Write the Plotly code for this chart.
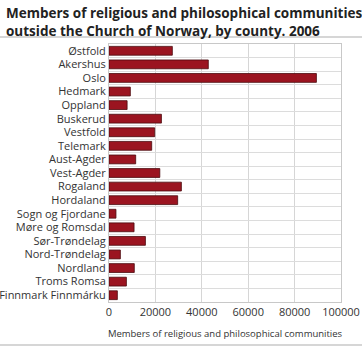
import plotly.graph_objects as go

counties = ["Østfold", "Akershus", "Oslo", "Hedmark", "Oppland", "Buskerud", "Vestfold",
            "Telemark", "Aust-Agder", "Vest-Agder", "Rogaland", "Hordaland",
            "Sogn og Fjordane", "Møre og Romsdal", "Sør-Trøndelag", "Nord-Trøndelag",
            "Nordland", "Troms Romsa", "Finnmark Finnmárku"]
members = [27300, 42800, 89400, 9200, 7800, 22600, 19700, 18400, 11500, 21900,
           31200, 29600, 3000, 10800, 15700, 4900, 10900, 7500, 3600]
x_ticks = [0, 20000, 40000, 60000, 80000, 100000]

font = "Open Sans, Segoe UI, sans-serif"
L, T, PW, PH = 109, 44, 232, 258

def px_x(x):
    return (x - L) / PW

def px_y(y):
    return (T + PH - y) / PH

fig = go.Figure(go.Bar(
    x=members, y=counties, orientation="h",
    marker=dict(color="#9b1420", line=dict(color="#4a0a0e", width=0.8)),
    hoverinfo="skip",
))

fig.update_layout(
    width=362, height=347,
    margin=dict(l=L, r=362 - L - PW, t=T, b=347 - T - PH, autoexpand=False),
    paper_bgcolor="white", plot_bgcolor="white",
    bargap=0.35,
    showlegend=False,
    font=dict(family=font, size=11, color="#333333"),
    xaxis=dict(
        range=[0, 100000], tickvals=x_ticks, ticktext=[str(v) for v in x_ticks],
        showgrid=True, gridcolor="#d6d6d6", gridwidth=1,
        zeroline=False, showline=True, linecolor="#c8c8c8", mirror=True,
        ticks="", tickfont=dict(size=11, color="#333333"), automargin=False,
        title=dict(text="Members of religious and philosophical communities",
                   font=dict(size=9.5, color="#333333"), standoff=12),
    ),
    yaxis=dict(
        autorange="reversed", type="category", automargin=False,
        tickson="boundaries", showgrid=True, gridcolor="#dcdcdc", gridwidth=1,
        showline=True, linecolor="#c8c8c8", mirror=True,
        ticks="", ticklen=0, tickfont=dict(size=11, color="#333333"),
    ),
    annotations=[
        dict(text="<b>Members of religious and philosophical communities<br>outside the Church of Norway, by county. 2006</b>",
             xref="paper", yref="paper", x=px_x(4), y=px_y(2),
             xanchor="left", yanchor="top", align="left", showarrow=False,
             font=dict(family=font, size=13.5, color="#222222")),
    ],
    shapes=[
        dict(type="line", xref="paper", yref="paper", x0=px_x(0), x1=px_x(362),
             y0=px_y(37), y1=px_y(37), line=dict(color="#c8c8c8", width=1.5)),
        dict(type="line", xref="paper", yref="paper", x0=px_x(0), x1=px_x(362),
             y0=px_y(345), y1=px_y(345), line=dict(color="#c8c8c8", width=1.5)),
    ],
)

fig.write_html("out.html")
